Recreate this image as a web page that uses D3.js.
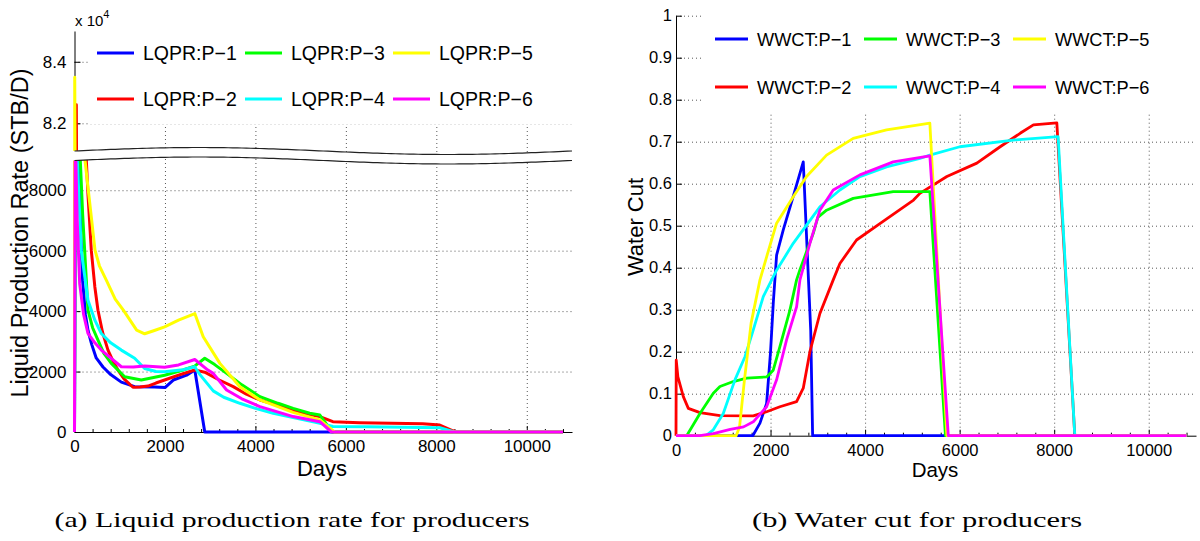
<!DOCTYPE html>
<html>
<head>
<meta charset="utf-8">
<script src="https://cdn.jsdelivr.net/npm/d3@7"></script>
<style>
body { margin: 0; background: #fff; }
svg text { font-family: "Liberation Sans", Arial, Helvetica, sans-serif; fill: #000; }
.grid line { stroke: #444; stroke-width: 0.9; stroke-dasharray: 1,3; }
.grid path { display: none; }
.axis path, .axis line { stroke: #000; stroke-width: 1; }
.caption { font-family: "Liberation Serif", "Times New Roman", serif !important; }
</style>
</head>
<body>
<svg id="chart" width="1200" height="541"></svg>
<script>
// well names and colours (MATLAB default order b r g c y m)
var wells = ["P\u22121", "P\u22122", "P\u22123", "P\u22124", "P\u22125", "P\u22126"];
var colors = ["#0000ff", "#ff0000", "#00ff00", "#00ffff", "#ffff00", "#ff00ff"];

// liquid production rate, STB/D : [day, rate]
var lqpr1 = [[0,0],[30,14000],[100,9000],[140,6500],[180,5000],[240,3900],[300,3350],[380,2900],[480,2450],[630,2150],[800,1900],[1035,1650],[1330,1500],[1770,1490],[2000,1470],[2184,1720],[2479,1880],[2660,2050],[2880,0],[10800,0]];
var lqpr2 = [[0,0],[40,82600],[261,9000],[300,7800],[372,6000],[450,4800],[519,4030],[620,3300],[740,2710],[850,2350],[961,2050],[1100,1750],[1293,1480],[1450,1490],[1624,1520],[1800,1620],[1993,1720],[2300,1880],[2660,2050],[2880,1980],[3200,1720],[3510,1500],[3800,1250],[4100,1060],[4835,730],[5200,580],[5425,510],[5713,340],[6300,310],[7000,290],[7700,270],[8077,230],[8367,40],[8450,0],[10800,0]];
var lqpr3 = [[0,0],[30,15000],[128,9000],[180,7200],[225,6000],[298,4030],[400,3450],[519,3040],[650,2600],[814,2270],[1109,1830],[1477,1720],[1993,1880],[2400,2050],[2656,2180],[2880,2440],[3100,2230],[3363,1940],[3700,1560],[4100,1170],[4500,950],[4835,780],[5200,620],[5425,560],[5700,0],[10800,0]];
var lqpr4 = [[0,0],[20,14000],[62,9000],[150,6000],[298,4360],[450,3700],[593,3260],[800,2950],[1035,2710],[1330,2440],[1551,2100],[1800,2000],[1993,1990],[2400,2060],[2656,2160],[2774,1900],[3067,1360],[3300,1150],[3657,950],[4000,780],[4394,620],[4835,480],[5278,340],[5425,290],[5713,180],[6500,170],[8077,140],[8400,0],[10800,0]];
var lqpr5 = [[0,0],[5,83500],[232,9000],[305,8000],[380,7000],[453,6020],[550,5500],[711,5000],[900,4400],[1080,4030],[1374,3370],[1551,3250],[1750,3350],[1993,3480],[2300,3700],[2660,3920],[2846,3150],[3215,2270],[3657,1500],[4100,1060],[4835,650],[5425,400],[5750,0],[10800,0]];
var lqpr6 = [[0,0],[15,10000],[60,7000],[115,4900],[200,3900],[298,3260],[450,2950],[593,2710],[800,2450],[1035,2160],[1300,2150],[1551,2180],[1993,2140],[2300,2220],[2660,2400],[2950,2050],[3067,1940],[3363,1390],[3700,1100],[4100,840],[4835,510],[5425,340],[5683,0],[10800,0]];

// water cut, fraction : [day, wct]
var wwct1 = [[0,0],[1624,0],[1776,0.03],[1917,0.077],[2000,0.2],[2060,0.32],[2128,0.43],[2269,0.49],[2480,0.57],[2692,0.652],[2850,0.25],[2890,0],[10800,0]];
var wwct2 = [[0,0],[5,0.18],[40,0.14],[155,0.093],[261,0.065],[507,0.055],[930,0.048],[1635,0.047],[1917,0.057],[2198,0.069],[2551,0.081],[2692,0.113],[2833,0.2],[3044,0.291],[3326,0.371],[3467,0.41],[3819,0.466],[4313,0.505],[5025,0.561],[5159,0.577],[5730,0.617],[6364,0.649],[6857,0.688],[7280,0.72],[7561,0.74],[8056,0.745],[8436,0],[10800,0]];
var wwct3 = [[0,0],[226,0],[507,0.053],[789,0.101],[930,0.117],[1212,0.129],[1494,0.137],[1917,0.14],[2057,0.156],[2198,0.212],[2410,0.299],[2551,0.371],[2622,0.395],[2904,0.482],[3000,0.52],[3185,0.537],[3749,0.565],[4595,0.581],[5370,0.581],[5700,0],[10800,0]];
var wwct4 = [[0,0],[634,0],[789,0.014],[1000,0.053],[1247,0.133],[1459,0.188],[1635,0.252],[1846,0.331],[2128,0.394],[2480,0.458],[3044,0.545],[3467,0.585],[3890,0.617],[4454,0.64],[5159,0.66],[5370,0.668],[6004,0.688],[7131,0.704],[8083,0.712],[8436,0],[10800,0]];
var wwct5 = [[0,0],[1272,0],[1343,0.02],[1448,0.133],[1589,0.268],[1776,0.371],[1917,0.426],[2128,0.506],[2480,0.569],[2762,0.617],[3185,0.668],[3749,0.708],[4454,0.728],[4900,0.736],[5370,0.744],[5730,0],[10800,0]];
var wwct6 = [[0,0],[507,0],[789,0.005],[1148,0.015],[1430,0.021],[1635,0.033],[1917,0.069],[2128,0.133],[2339,0.228],[2551,0.307],[2622,0.371],[2833,0.458],[3044,0.537],[3326,0.585],[3890,0.621],[4595,0.652],[5370,0.666],[5760,0],[10800,0]];

var xTicks = [0, 2000, 4000, 6000, 8000, 10000];
var lowTicks = [0, 2000, 4000, 6000, 8000];
var upTicks = [82000, 84000];
var wctTicks = [0, 0.1, 0.2, 0.3, 0.4, 0.5, 0.6, 0.7, 0.8, 0.9, 1];

var lqpr = [lqpr1, lqpr2, lqpr3, lqpr4, lqpr5, lqpr6];
var wwct = [wwct1, wwct2, wwct3, wwct4, wwct5, wwct6];

var svg = d3.select("#chart");
var defs = svg.append("defs");
var plain = d3.format("d");
var minorTicks = d3.range(0, 11001, 400).filter(function(d) { return d % 2000 !== 0; });

// ---------- left panel: liquid rate with broken y axis ----------
var xL = d3.scaleLinear().domain([0, 11000]).range([74.5, 572]);
var yLow = d3.scaleLinear().domain([0, 9000]).range([432, 160]);
var yUp = d3.scaleLinear().domain([81100, 85000]).range([151, 31]);

var gL = svg.append("g");

// grids
gL.append("g").attr("class", "grid")
  .attr("transform", "translate(0,432)")
  .call(d3.axisBottom(xL).tickValues(xTicks.slice(1)).tickSize(-(432 - 31)).tickFormat(""));
gL.append("g").attr("class", "grid")
  .attr("transform", "translate(74.5,0)")
  .call(d3.axisLeft(yLow).tickValues(lowTicks.slice(1)).tickSize(-(572 - 74.5)).tickFormat(""));
gL.append("g").attr("class", "grid")
  .attr("transform", "translate(74.5,0)")
  .call(d3.axisLeft(yUp).tickValues(upTicks).tickSize(-(572 - 74.5)).tickFormat(""));

// axes
gL.append("g").attr("class", "axis").attr("transform", "translate(0,432)")
  .call(d3.axisBottom(xL).tickValues(xTicks).tickSize(-6).tickSizeOuter(0).tickPadding(8).tickFormat(plain));
gL.append("g").attr("class", "axis").attr("transform", "translate(0,432)")
  .call(d3.axisBottom(xL).tickValues(minorTicks).tickSize(-3).tickSizeOuter(0).tickFormat(""))
  .select(".domain").remove();
gL.append("g").attr("class", "axis").attr("transform", "translate(74.5,0)")
  .call(d3.axisLeft(yLow).tickValues(lowTicks).tickSize(-6).tickSizeOuter(0).tickPadding(8).tickFormat(plain));
gL.append("g").attr("class", "axis").attr("transform", "translate(74.5,0)")
  .call(d3.axisLeft(yUp).tickValues(upTicks).tickSize(-6).tickSizeOuter(0).tickPadding(8)
    .tickFormat(function(d) { return (d / 1e4).toFixed(1); }));
gL.selectAll(".axis text").attr("font-size", 17);

// clip regions
defs.append("clipPath").attr("id", "clipLow").append("rect")
  .attr("x", 60).attr("y", 160).attr("width", 520).attr("height", 280);
defs.append("clipPath").attr("id", "clipUp").append("rect")
  .attr("x", 60).attr("y", 31).attr("width", 520).attr("height", 120);

var lineLow = d3.line().x(function(d) { return xL(d[0]); }).y(function(d) { return yLow(d[1]); });
var lineUp = d3.line().x(function(d) { return xL(d[0]); }).y(function(d) { return yUp(d[1]); });

var gLow = gL.append("g").attr("clip-path", "url(#clipLow)");
var gUp = gL.append("g").attr("clip-path", "url(#clipUp)");
lqpr.forEach(function(s, i) {
  gLow.append("path").datum(s).attr("d", lineLow)
    .attr("fill", "none").attr("stroke", colors[i]).attr("stroke-width", 3).attr("stroke-linejoin", "round");
  gUp.append("path").datum(s).attr("d", lineUp)
    .attr("fill", "none").attr("stroke", colors[i]).attr("stroke-width", 3).attr("stroke-linejoin", "round");
});

// axis break: white band between two wavy lines
var wave = d3.range(0, 11001, 100);
var waveY = function(base) {
  return function(d) { return base - 3.5 * Math.sin(2 * Math.PI * d / 11000); };
};
gL.append("path").datum(wave)
  .attr("d", d3.area().x(function(d) { return xL(d) - (d === 0 ? 2 : 0); }).y0(waveY(160.5)).y1(waveY(151)))
  .attr("fill", "#fff");
[151, 160.5].forEach(function(b) {
  gL.append("path").datum(wave)
    .attr("d", d3.line().x(function(d) { return xL(d); }).y(waveY(b)))
    .attr("fill", "none").attr("stroke", "#222").attr("stroke-width", 1.2);
});

// legend
gL.append("rect").attr("x", 88).attr("y", 31).attr("width", 484).attr("height", 93).attr("fill", "#fff");
lqpr.forEach(function(s, i) {
  var col = Math.floor(i / 2), row = i % 2;
  var lx = 97 + col * 148, ly = 53 + row * 46;
  gL.append("line").attr("x1", lx).attr("x2", lx + 37).attr("y1", ly).attr("y2", ly)
    .attr("stroke", colors[i]).attr("stroke-width", 3);
  gL.append("text").attr("x", lx + 46).attr("y", ly).attr("dy", "0.36em")
    .attr("font-size", 19.5).text("LQPR:" + wells[i]);
});

// labels
var xe = gL.append("text").attr("x", 75).attr("y", 26).attr("font-size", 15);
xe.append("tspan").text("x 10");
xe.append("tspan").attr("dy", -8).attr("font-size", 11).text("4");
gL.append("text").attr("x", 322).attr("y", 476).attr("text-anchor", "middle")
  .attr("font-size", 22).text("Days");
gL.append("text").attr("transform", "translate(28,233) rotate(-90)").attr("text-anchor", "middle")
  .attr("font-size", 23.5).text("Liquid Production Rate (STB/D)");

// ---------- right panel: water cut ----------
var xR = d3.scaleLinear().domain([0, 11000]).range([676, 1196]);
var yR = d3.scaleLinear().domain([0, 1]).range([435.7, 15.7]);
var gR = svg.append("g");

gR.append("g").attr("class", "grid")
  .attr("transform", "translate(0,435.7)")
  .call(d3.axisBottom(xR).tickValues(xTicks.slice(1)).tickSize(-420).tickFormat(""));
gR.append("g").attr("class", "grid")
  .attr("transform", "translate(676,0)")
  .call(d3.axisLeft(yR).tickValues(wctTicks.slice(1)).tickSize(-520).tickFormat(""));

gR.append("g").attr("class", "axis").attr("transform", "translate(0,435.7)")
  .call(d3.axisBottom(xR).tickValues(xTicks).tickSize(-6).tickSizeOuter(0).tickPadding(9).tickFormat(plain));
gR.append("g").attr("class", "axis").attr("transform", "translate(0,435.7)")
  .call(d3.axisBottom(xR).tickValues(minorTicks).tickSize(-3).tickSizeOuter(0).tickFormat(""))
  .select(".domain").remove();
gR.append("g").attr("class", "axis").attr("transform", "translate(676,0)")
  .call(d3.axisLeft(yR).tickValues(wctTicks).tickSize(-6).tickSizeOuter(0).tickPadding(4)
    .tickFormat(function(d) { return d3.format("~g")(d); }));
gR.selectAll(".axis text").attr("font-size", 16.5);

var lineR = d3.line().x(function(d) { return xR(d[0]); }).y(function(d) { return yR(d[1]); });
wwct.forEach(function(s, i) {
  gR.append("path").datum(s).attr("d", lineR)
    .attr("fill", "none").attr("stroke", colors[i]).attr("stroke-width", 2.8).attr("stroke-linejoin", "round");
});

gR.append("rect").attr("x", 703).attr("y", 14).attr("width", 493).attr("height", 98).attr("fill", "#fff");
wwct.forEach(function(s, i) {
  var col = Math.floor(i / 2), row = i % 2;
  var lx = 715 + col * 149, ly = 39 + row * 48;
  gR.append("line").attr("x1", lx).attr("x2", lx + 33).attr("y1", ly).attr("y2", ly)
    .attr("stroke", colors[i]).attr("stroke-width", 3);
  gR.append("text").attr("x", lx + 42).attr("y", ly).attr("dy", "0.36em")
    .attr("font-size", 18.2).text("WWCT:" + wells[i]);
});

gR.append("text").attr("x", 935).attr("y", 477).attr("text-anchor", "middle")
  .attr("font-size", 20.5).text("Days");
gR.append("text").attr("transform", "translate(643,227) rotate(-90)").attr("text-anchor", "middle")
  .attr("font-size", 22).text("Water Cut");

// captions
svg.append("text").attr("class", "caption").attr("x", 292).attr("y", 527).attr("text-anchor", "middle")
  .attr("font-size", 22).attr("textLength", 475).attr("lengthAdjust", "spacingAndGlyphs")
  .text("(a) Liquid production rate for producers");
svg.append("text").attr("class", "caption").attr("x", 917).attr("y", 527).attr("text-anchor", "middle")
  .attr("font-size", 22).attr("textLength", 330).attr("lengthAdjust", "spacingAndGlyphs")
  .text("(b) Water cut for producers");
</script>
</body>
</html>
